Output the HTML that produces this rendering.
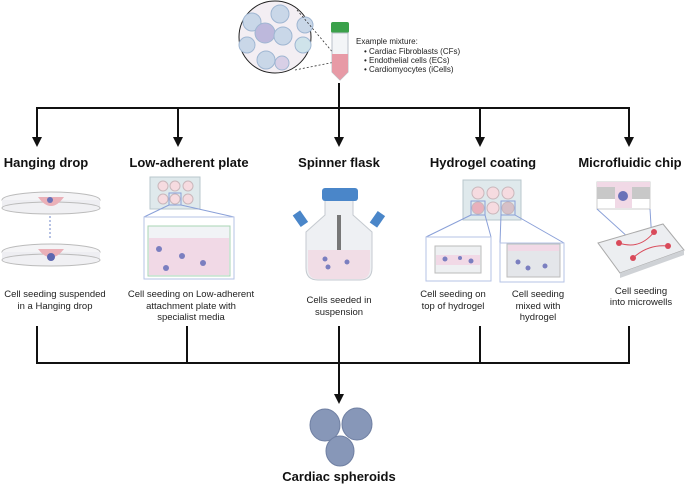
<!DOCTYPE html>
<html><head><meta charset="utf-8"><style>
html,body{margin:0;padding:0;background:#fff;}
svg{display:block;font-family:"Liberation Sans",sans-serif;}
.h{font-weight:bold;font-size:13px;fill:#111;}
.c{font-size:9.5px;fill:#222;}
</style></head><body>
<svg width="685" height="484" viewBox="0 0 685 484" xmlns="http://www.w3.org/2000/svg">
<!-- top circle -->
<circle cx="275" cy="37" r="36" fill="#f3eef3" stroke="#222" stroke-width="1"/>
<g fill="#c9d7e8" stroke="#9fb6d2" stroke-width="1">
<circle cx="252" cy="22" r="9"/><circle cx="280" cy="14" r="9"/><circle cx="305" cy="25" r="8"/>
<circle cx="247" cy="45" r="8"/><circle cx="265" cy="33" r="10" fill="#bdb8dc"/><circle cx="283" cy="36" r="9"/>
<circle cx="303" cy="45" r="8" fill="#cfe3ea"/><circle cx="266" cy="60" r="9"/><circle cx="282" cy="63" r="7" fill="#d8cfe6"/>
</g>
<line x1="297" y1="10" x2="335" y2="55" stroke="#333" stroke-dasharray="2,2" stroke-width="0.8"/>
<line x1="295" y1="70" x2="335" y2="62" stroke="#333" stroke-dasharray="2,2" stroke-width="0.8"/>
<!-- tube -->
<rect x="331" y="22" width="18" height="11" rx="2" fill="#3aa14a"/>
<path d="M332,33 H348 V72 L340,80 L332,72 Z" fill="#f3f5f7" stroke="#b8c0c8"/>
<path d="M332,54 H348 V72 L340,80 L332,72 Z" fill="#e79aa6"/>
<text x="356" y="44" font-size="8" fill="#222">Example mixture:</text>
<g font-size="8" fill="#222">
<text x="364" y="54">•  Cardiac Fibroblasts (CFs)</text>
<text x="364" y="63">•  Endothelial cells (ECs)</text>
<text x="364" y="72">•  Cardiomyocytes (iCells)</text>
</g>
<!-- top connectors -->
<g stroke="#111" stroke-width="2" fill="none">
<line x1="339" y1="83" x2="339" y2="108"/>
<line x1="36" y1="108" x2="630" y2="108"/>
<line x1="37" y1="108" x2="37" y2="140"/>
<line x1="178" y1="108" x2="178" y2="140"/>
<line x1="339" y1="108" x2="339" y2="140"/>
<line x1="480" y1="108" x2="480" y2="140"/>
<line x1="629" y1="108" x2="629" y2="140"/>
</g>
<g fill="#111">
<path d="M32,137 h10 l-5,10 z"/><path d="M173,137 h10 l-5,10 z"/><path d="M334,137 h10 l-5,10 z"/>
<path d="M475,137 h10 l-5,10 z"/><path d="M624,137 h10 l-5,10 z"/>
</g>
<!-- headings -->
<g class="h" text-anchor="middle">
<text x="46" y="167">Hanging drop</text>
<text x="189" y="167">Low-adherent plate</text>
<text x="339" y="167">Spinner flask</text>
<text x="483" y="167">Hydrogel coating</text>
<text x="630" y="167">Microfluidic chip</text>
</g>
<!-- hanging drop -->
<g>
<ellipse cx="51" cy="200" rx="49" ry="8" fill="#f4f4f6" stroke="#bbb"/>
<rect x="2" y="200" width="98" height="8" fill="#eeeef2" stroke="none"/>
<ellipse cx="51" cy="208" rx="49" ry="6" fill="#f0f0f3" stroke="#bbb"/>
<path d="M38,197 Q51,215 64,197 Z" fill="#eab0b8"/>
<circle cx="50" cy="200" r="3" fill="#6a72b8"/>
<line x1="50" y1="216" x2="50" y2="238" stroke="#6d85c8" stroke-dasharray="2,2"/>
<ellipse cx="51" cy="252" rx="49" ry="8" fill="#f4f4f6" stroke="#bbb"/>
<rect x="2" y="252" width="98" height="8" fill="#eeeef2"/>
<ellipse cx="51" cy="260" rx="49" ry="6" fill="#f0f0f3" stroke="#bbb"/>
<path d="M38,249 Q51,266 64,249 Z" fill="#eab0b8"/>
<circle cx="51" cy="257" r="4" fill="#5c66b0"/>
</g>
<!-- low adherent plate -->
<rect x="150" y="177" width="50" height="32" fill="#dfe9ec" stroke="#b9c7cc"/>
<g fill="#f6dbe0" stroke="#c9b7bb">
<circle cx="163" cy="186" r="5"/><circle cx="175" cy="186" r="5"/><circle cx="188" cy="186" r="5"/>
<circle cx="163" cy="199" r="5"/><circle cx="175" cy="199" r="5"/><circle cx="188" cy="199" r="5"/>
</g>
<rect x="169" y="193" width="12" height="12" fill="none" stroke="#8aa0d8"/>
<line x1="169" y1="205" x2="144" y2="217" stroke="#8aa0d8"/><line x1="181" y1="205" x2="234" y2="217" stroke="#8aa0d8"/>
<rect x="144" y="217" width="90" height="62" fill="#fff" stroke="#b6c3e6"/>
<rect x="148" y="226" width="82" height="50" fill="#f1f3f6" stroke="#a9d6b4"/>
<rect x="149" y="238" width="80" height="37" fill="#f1d9e6"/>
<g fill="#7b7fc0"><circle cx="159" cy="249" r="3"/><circle cx="182" cy="256" r="3"/><circle cx="203" cy="263" r="3"/><circle cx="166" cy="268" r="3"/></g>
<!-- spinner flask -->
<path d="M325,200 H353 V215 L372,232 V268 Q372,280 360,280 H318 Q306,280 306,268 V232 L325,215 Z" fill="#eef0f3" stroke="#c5cad0"/>
<rect x="322" y="188" width="36" height="13" rx="3" fill="#4a86c9"/>
<rect x="296" y="212" width="9" height="14" fill="#4a86c9" transform="rotate(-35 300 219)"/>
<rect x="373" y="212" width="9" height="14" fill="#4a86c9" transform="rotate(35 377 219)"/>
<rect x="337" y="215" width="4" height="36" fill="#777"/>
<path d="M308,250 H370 V268 Q370,279 360,279 H318 Q308,279 308,268 Z" fill="#f1dde6"/>
<g fill="#7b7fc0"><circle cx="325" cy="259" r="2.5"/><circle cx="328" cy="267" r="2.5"/><circle cx="347" cy="262" r="2.5"/></g>
<!-- hydrogel plate -->
<rect x="463" y="180" width="58" height="40" fill="#dfe9ec" stroke="#b9c7cc"/>
<g fill="#f6dbe0" stroke="#c9b7bb">
<circle cx="478" cy="193" r="6"/><circle cx="493" cy="193" r="6"/><circle cx="508" cy="193" r="6"/>
<circle cx="478" cy="208" r="6" fill="#e8b0bc"/><circle cx="493" cy="208" r="6"/><circle cx="508" cy="208" r="6" fill="#d6c0c8"/>
</g>
<rect x="471" y="201" width="14" height="14" fill="none" stroke="#8aa0d8"/>
<rect x="501" y="201" width="14" height="14" fill="none" stroke="#8aa0d8"/>
<line x1="471" y1="215" x2="426" y2="237" stroke="#8aa0d8"/><line x1="485" y1="215" x2="491" y2="237" stroke="#8aa0d8"/>
<line x1="501" y1="215" x2="500" y2="243" stroke="#8aa0d8"/><line x1="515" y1="215" x2="564" y2="243" stroke="#8aa0d8"/>
<rect x="426" y="237" width="65" height="44" fill="#fff" stroke="#b6c3e6"/>
<rect x="435" y="246" width="46" height="27" fill="#eef0f2" stroke="#bbb"/>
<rect x="436" y="255" width="44" height="10" fill="#f1d9e6"/>
<g fill="#7b7fc0"><circle cx="445" cy="259" r="2.5"/><circle cx="460" cy="258" r="2"/><circle cx="471" cy="261" r="2.5"/></g>
<rect x="500" y="243" width="64" height="39" fill="#fff" stroke="#b6c3e6"/>
<rect x="507" y="244" width="53" height="33" fill="#e4e6ea" stroke="#bbb"/>
<rect x="508" y="245" width="51" height="6" fill="#f1d9e6"/>
<g fill="#7b7fc0"><circle cx="518" cy="262" r="2.5"/><circle cx="528" cy="268" r="2.5"/><circle cx="545" cy="266" r="2.5"/></g>
<!-- microfluidic -->
<rect x="597" y="182" width="53" height="27" fill="#fff" stroke="#ccc"/>
<rect x="597" y="182" width="53" height="5" fill="#f1d9e6"/>
<rect x="597" y="187" width="18" height="12" fill="#c8c8c8"/><rect x="632" y="187" width="18" height="12" fill="#c8c8c8"/>
<rect x="615" y="187" width="17" height="21" fill="#f1d9e6"/>
<circle cx="623" cy="196" r="5" fill="#6a72b8"/>
<line x1="597" y1="209" x2="640" y2="248" stroke="#8aa0d8"/><line x1="650" y1="209" x2="652" y2="242" stroke="#8aa0d8"/>
<path d="M598,243 L663,224 L684,250 L620,273 Z" fill="#eceef1" stroke="#aaa"/>
<path d="M620,273 L684,250 L684,255 L620,278 Z" fill="#cfd2d6"/>
<g fill="#d94a5a"><circle cx="619" cy="243" r="3"/><circle cx="654" cy="232" r="3"/><circle cx="633" cy="258" r="3"/><circle cx="668" cy="246" r="3"/></g>
<path d="M619,243 Q640,250 654,232 M633,258 Q648,244 668,246" stroke="#d94a5a" fill="none" stroke-width="1"/>
<!-- captions -->
<g class="c" text-anchor="middle">
<text x="55" y="297">Cell seeding suspended</text><text x="55" y="309">in a Hanging drop</text>
<text x="191" y="297">Cell seeding on Low-adherent</text><text x="191" y="309">attachment plate with</text><text x="191" y="320">specialist media</text>
<text x="339" y="303">Cells seeded in</text><text x="339" y="315">suspension</text>
<text x="453" y="297">Cell seeding on</text><text x="453" y="309">top of hydrogel</text>
<text x="538" y="297">Cell seeding</text><text x="538" y="309">mixed with</text><text x="538" y="320">hydrogel</text>
<text x="641" y="294">Cell seeding</text><text x="641" y="305">into microwells</text>
</g>
<!-- bottom connectors -->
<g stroke="#111" stroke-width="2" fill="none">
<line x1="37" y1="326" x2="37" y2="363"/>
<line x1="187" y1="326" x2="187" y2="363"/>
<line x1="339" y1="326" x2="339" y2="397"/>
<line x1="480" y1="326" x2="480" y2="363"/>
<line x1="629" y1="326" x2="629" y2="363"/>
<line x1="36" y1="363" x2="630" y2="363"/>
</g>
<path d="M334,394 h10 l-5,10 z" fill="#111"/>
<!-- spheroids -->
<g fill="#8797b8" stroke="#6f7fa2">
<ellipse cx="325" cy="425" rx="15" ry="16"/>
<ellipse cx="357" cy="424" rx="15" ry="16"/>
<ellipse cx="340" cy="451" rx="14" ry="15"/>
</g>
<text x="339" y="481" class="h" text-anchor="middle">Cardiac spheroids</text>
</svg>
</body></html>
